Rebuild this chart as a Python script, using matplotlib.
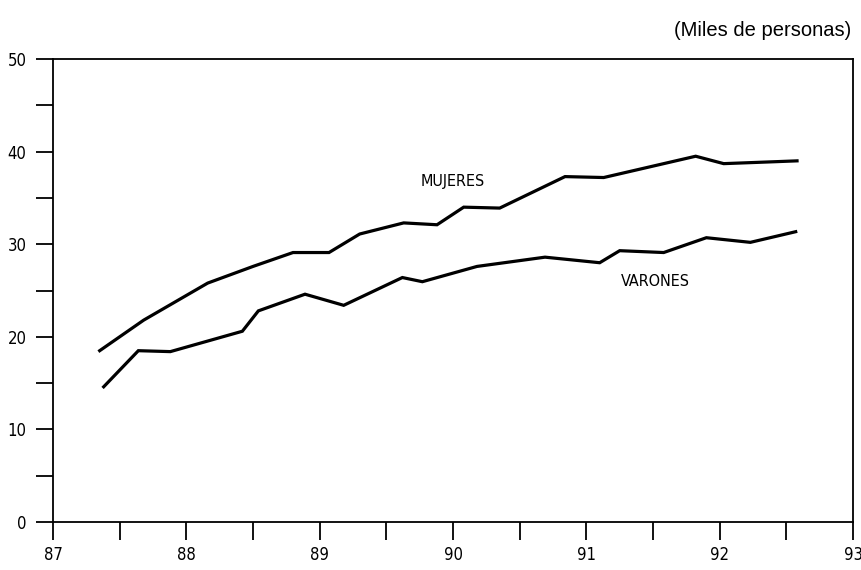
import matplotlib.pyplot as plt
from matplotlib.ticker import MultipleLocator

# Datos (miles de personas)
mujeres_x = [87.35, 87.68, 88.16, 88.50, 88.80, 89.07, 89.30, 89.63, 89.88,
             90.08, 90.35, 90.84, 91.13, 91.82, 92.03, 92.40, 92.58]
mujeres_y = [18.5, 21.8, 25.8, 27.6, 29.1, 29.1, 31.1, 32.3, 32.1,
             34.0, 33.9, 37.3, 37.2, 39.5, 38.7, 38.9, 39.0]

varones_x = [87.38, 87.64, 87.88, 88.42, 88.54, 88.89, 89.18, 89.62, 89.77,
             90.18, 90.69, 91.10, 91.25, 91.58, 91.90, 92.23, 92.57]
varones_y = [14.6, 18.5, 18.4, 20.6, 22.8, 24.6, 23.4, 26.4, 25.95,
             27.6, 28.6, 28.0, 29.3, 29.1, 30.7, 30.2, 31.35]

year_ticks = [87, 88, 89, 90, 91, 92, 93]

# fuente estrecha para etiquetas y ejes
narrow = dict(family='DejaVu Sans', stretch='condensed')

fig = plt.figure(figsize=(8.62, 5.70), dpi=100)
ax = fig.add_axes([0.0615, 0.0842, 0.9281, 0.8123])

ax.plot(mujeres_x, mujeres_y, color='black', lw=2.3, solid_joinstyle='miter')
ax.plot(varones_x, varones_y, color='black', lw=2.3, solid_joinstyle='miter')

ax.text(90.0, 36.75, 'MUJERES', ha='center', va='center', fontsize=11.5, **narrow)
ax.text(91.52, 25.95, 'VARONES', ha='center', va='center', fontsize=11.5, **narrow)

ax.set_xlim(87, 93)
ax.set_ylim(0, 50)
ax.set_xticks(year_ticks)
ax.set_xticklabels([str(y) for y in year_ticks])
ax.xaxis.set_minor_locator(MultipleLocator(0.5))
ax.yaxis.set_major_locator(MultipleLocator(10))
ax.yaxis.set_minor_locator(MultipleLocator(5))

ax.tick_params(axis='both', which='both', direction='out', width=1.3, color='black')
ax.tick_params(axis='x', which='both', length=13, pad=4)
ax.tick_params(axis='y', which='both', length=12, pad=7)
for lab in ax.get_xticklabels() + ax.get_yticklabels():
    lab.set_family('DejaVu Sans')
    lab.set_stretch('condensed')
    lab.set_fontsize(12)

for s in ax.spines.values():
    s.set_linewidth(1.3)

fig.text(0.988, 0.946, '(Miles de personas)', ha='right', va='center',
         fontsize=14.5, family='Liberation Sans')

fig.savefig('out.png', dpi=100)
